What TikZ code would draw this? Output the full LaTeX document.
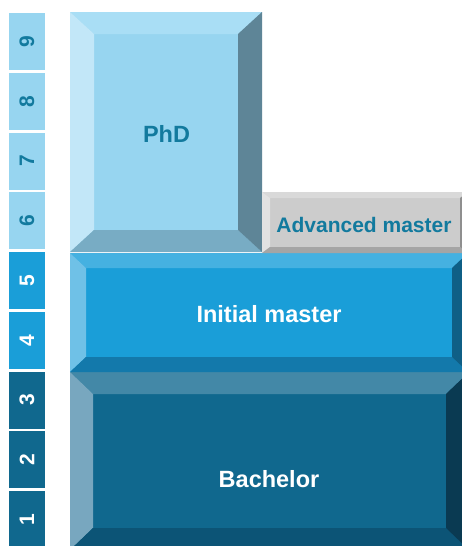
\documentclass[tikz,border=0pt]{standalone}
\usepackage{fontspec}
\setmainfont{Liberation Sans}
\definecolor{phdface}{HTML}{97D5F0}
\definecolor{phdtop}{HTML}{A9DEF5}
\definecolor{phdleft}{HTML}{C2E7F8}
\definecolor{phdbot}{HTML}{78ACC4}
\definecolor{phdright}{HTML}{5E8597}
\definecolor{advface}{HTML}{CCCCCC}
\definecolor{advtop}{HTML}{D9D9D9}
\definecolor{advleft}{HTML}{E2E2E2}
\definecolor{advbot}{HTML}{A5A5A5}
\definecolor{advright}{HTML}{8F8F8F}
\definecolor{imface}{HTML}{1A9ED8}
\definecolor{imtop}{HTML}{45B1E1}
\definecolor{imleft}{HTML}{6FC1E7}
\definecolor{imbot}{HTML}{1379AB}
\definecolor{imright}{HTML}{0F5F86}
\definecolor{baface}{HTML}{10688E}
\definecolor{batop}{HTML}{4388A7}
\definecolor{baleft}{HTML}{78A7BF}
\definecolor{babot}{HTML}{0C5476}
\definecolor{baright}{HTML}{0A3A52}
\definecolor{tealtext}{HTML}{127A9E}
% bevelled box: x1,y1,x2,y2,bx,by ; colours bt bl bb br bf set before
\newcommand\bevbox[6]{%
  \fill[bf] (#1,#2) rectangle (#3,#4);
  \fill[bt] (#1,#2) -- (#3,#2) -- ({#3-#5},{#2+#6}) -- ({#1+#5},{#2+#6}) -- cycle;
  \fill[bl] (#1,#2) -- ({#1+#5},{#2+#6}) -- ({#1+#5},{#4-#6}) -- (#1,#4) -- cycle;
  \fill[bb] (#1,#4) -- ({#1+#5},{#4-#6}) -- ({#3-#5},{#4-#6}) -- (#3,#4) -- cycle;
  \fill[br] (#3,#2) -- ({#3-#5},{#2+#6}) -- ({#3-#5},{#4-#6}) -- (#3,#4) -- cycle;
}
\newcommand\setbev[5]{\colorlet{bt}{#1}\colorlet{bl}{#2}\colorlet{bb}{#3}\colorlet{br}{#4}\colorlet{bf}{#5}}
\tikzset{
  bigtext/.style={font=\fontsize{23.5}{28}\selectfont\bfseries, anchor=base, inner sep=0pt},
  advtext/.style={font=\fontsize{21}{25}\selectfont\bfseries, anchor=base, inner sep=0pt, text=tealtext},
  digit/.style={font=\fontsize{21}{25}\selectfont\bfseries, rotate=90, inner sep=0pt},
  cell/.style={minimum width=36pt, minimum height=57pt, inner sep=0pt, draw=none}
}
\begin{document}
\begin{tikzpicture}[x=1pt,y=-1pt]
\useasboundingbox (0,0) rectangle (462,546);
\clip (0,0) rectangle (462,546);
\fill[white] (0,0) rectangle (462,546);
% scale column
\foreach \i in {1,...,9}{
  \pgfmathsetmacro{\yc}{13+(9-\i)*59.75+28.5}
  \ifnum\i>5
    \node[cell, fill=phdface] (cell\i) at (27,\yc) {};
    \node[digit, text=tealtext] (num\i) at (27,\yc) {\i};
  \else\ifnum\i>3
    \node[cell, fill=imface] (cell\i) at (27,\yc) {};
    \node[digit, text=white] (num\i) at (27,\yc) {\i};
  \else
    \node[cell, fill=baface] (cell\i) at (27,\yc) {};
    \node[digit, text=white] (num\i) at (27,\yc) {\i};
  \fi\fi
}
% Bachelor
\setbev{batop}{baleft}{babot}{baright}{baface}
\bevbox{70}{372}{469}{550}{23}{22}
% Initial master
\setbev{imtop}{imleft}{imbot}{imright}{imface}
\bevbox{70}{253}{468}{372}{16}{15}
% PhD
\setbev{phdtop}{phdleft}{phdbot}{phdright}{phdface}
\bevbox{70}{12}{262}{252}{24}{22}
% Advanced master
\setbev{advtop}{advleft}{advbot}{advright}{advface}
\bevbox{262}{192}{468}{253}{8}{6}
% labels
\node[bigtext, text=tealtext] (phd) at (166.5,142) {PhD};
\node[advtext] (adv) at (364,232) {Advanced master};
\node[bigtext, text=white] (im) at (269,322) {Initial master};
\node[bigtext, text=white] (ba) at (269,487) {Bachelor};
\end{tikzpicture}
\end{document}
